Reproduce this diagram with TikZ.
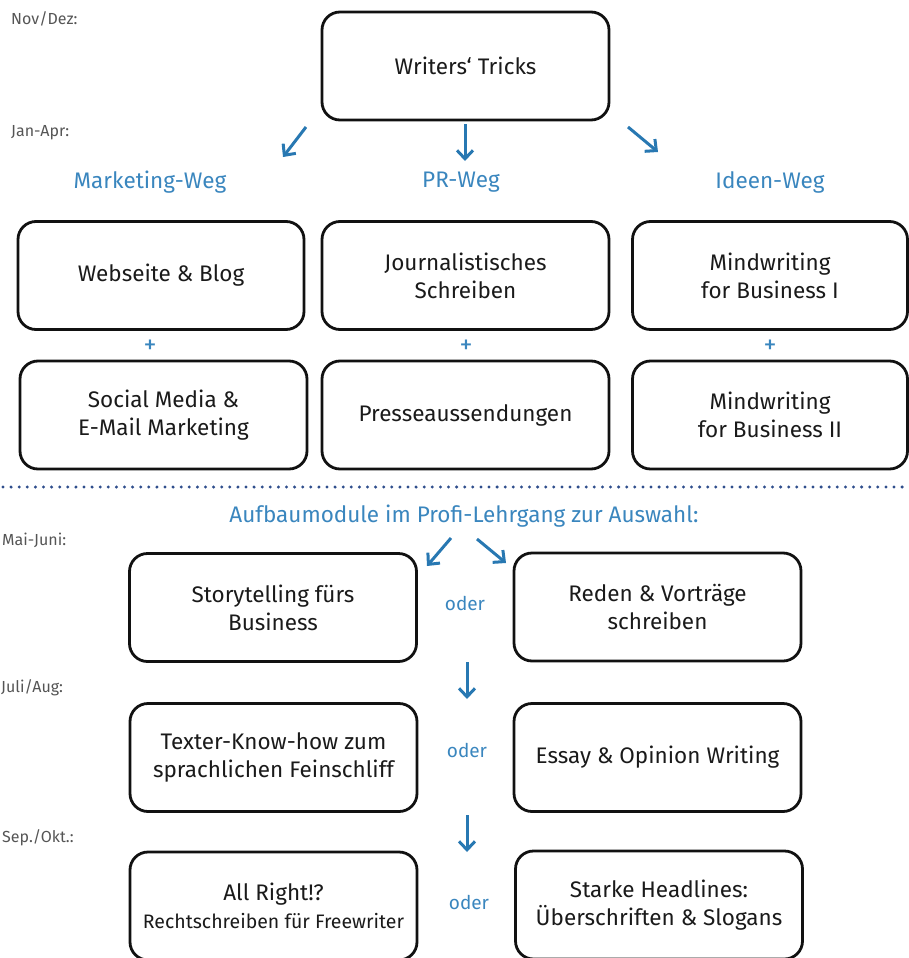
\documentclass[tikz,border=0pt]{standalone}
\usepackage{fontspec}
\setmainfont{Fira Sans}
\usetikzlibrary{arrows.meta}
\definecolor{boxline}{HTML}{111111}
\definecolor{boxtext}{HTML}{1A1A1A}
\definecolor{bluetext}{HTML}{3A86BE}
\definecolor{bluearrow}{HTML}{2878B2}
\definecolor{dotblue}{HTML}{2F4E8C}
\definecolor{monthgray}{HTML}{555555}
\begin{document}
\begin{tikzpicture}[x=1pt,y=-1pt,
  box/.style={draw=boxline, line width=2.8pt, rounded corners=18pt,
    minimum width=287pt, minimum height=108pt, align=center,
    font=\fontsize{22.5}{28}\selectfont, text=boxtext, inner sep=0pt},
  narrowbox/.style={box, minimum width=275pt},
  month/.style={anchor=west, text=monthgray, font=\fontsize{16}{18}\selectfont, inner sep=0pt},
  weg/.style={text=bluetext, font=\fontsize{22.5}{26}\selectfont, inner sep=0pt},
  plus/.style={text=bluetext, font=\fontsize{26}{28}\selectfont, inner sep=0pt},
  oder/.style={text=bluetext, font=\fontsize{19}{20}\selectfont, inner sep=0pt},
  flow/.style={draw=bluearrow, line width=3pt,
    -{Straight Barb[length=8.5pt,width=16pt,line width=3pt]}}]
\useasboundingbox (0,0) rectangle (909,958);

% month labels
\node[month] (m1) at (11,19) {Nov/Dez:};
\node[month] (m2) at (11,133) {Jan-Apr:};
\node[month] (m3) at (2,540) {Mai-Juni:};
\node[month] (m4) at (1,688) {Juli/Aug:};
\node[month] (m5) at (2,838) {Sep./Okt.:};

% top box
\node[box] (wt) at (465.5,66) {Writers‘ Tricks};

% path labels
\node[weg] (mw) at (150,182) {Marketing-Weg};
\node[weg] (pw) at (461,182) {PR-Weg};
\node[weg] (iw) at (770,182) {Ideen-Weg};

% arrows from top
\coordinate (a1s) at (306,127); \coordinate (a1e) at (283,157);
\coordinate (a2s) at (465,124); \coordinate (a2e) at (465,161);
\coordinate (a3s) at (628,127); \coordinate (a3e) at (658,152);
\draw[flow] (a1s) -- (a1e);
\draw[flow] (a2s) -- (a2e);
\draw[flow] (a3s) -- (a3e);

% row 1
\node[box, minimum width=286pt] (web) at (161,275.5) {Webseite \& Blog};
\node[box] (jou) at (465.5,275.5) {Journalistisches\\Schreiben};
\node[narrowbox] (mw1) at (770,275.5) {Mindwriting\\for Business I};

% plus signs
\node[plus] (p1) at (150,347) {+};
\node[plus] (p2) at (466,347) {+};
\node[plus] (p3) at (770,347) {+};

% row 2
\node[box] (soc) at (163.5,415) {Social Media \&\\E-Mail Marketing};
\node[box] (pre) at (465.5,415) {Presseaussendungen};
\node[narrowbox] (mw2) at (770,415) {Mindwriting\\for Business II};

% dotted separator
\coordinate (dl) at (3,487); \coordinate (dr) at (909,487);
\draw[dotblue, line width=3.3pt, line cap=round, dash pattern=on 0pt off 8.1pt] (dl) -- (dr);

\node[weg] (auf) at (464,516) {Aufbaumodule im Profi-Lehrgang zur Auswahl:};

% arrows to choice
\coordinate (b1s) at (451,538); \coordinate (b1e) at (427,566);
\coordinate (b2s) at (477,539); \coordinate (b2e) at (506,563);
\draw[flow] (b1s) -- (b1e);
\draw[flow] (b2s) -- (b2e);

% row 3
\node[box] (sto) at (273,607.5) {Storytelling fürs\\Business};
\node[box] (red) at (657.5,607) {Reden \& Vorträge\\schreiben};
\node[oder] (o1) at (465,603) {oder};

\coordinate (c1s) at (467,662); \coordinate (c1e) at (467,699);
\draw[flow] (c1s) -- (c1e);

% row 4
\node[box] (tex) at (273.5,757.5) {Texter-Know-how zum\\sprachlichen Feinschliff};
\node[box] (ess) at (657.5,757.5) {Essay \& Opinion Writing};
\node[oder] (o2) at (467,750) {oder};

\coordinate (c2s) at (467,815); \coordinate (c2e) at (467,852);
\draw[flow] (c2s) -- (c2e);

% row 5
\node[box] (all) at (273.5,906) {All Right!?\\{\fontsize{19.5}{22}\selectfont Rechtschreiben für Freewriter}};
\node[box] (sta) at (659,905) {Starke Headlines:\\Überschriften \& Slogans};
\node[oder] (o3) at (469,902) {oder};
\end{tikzpicture}
\end{document}
